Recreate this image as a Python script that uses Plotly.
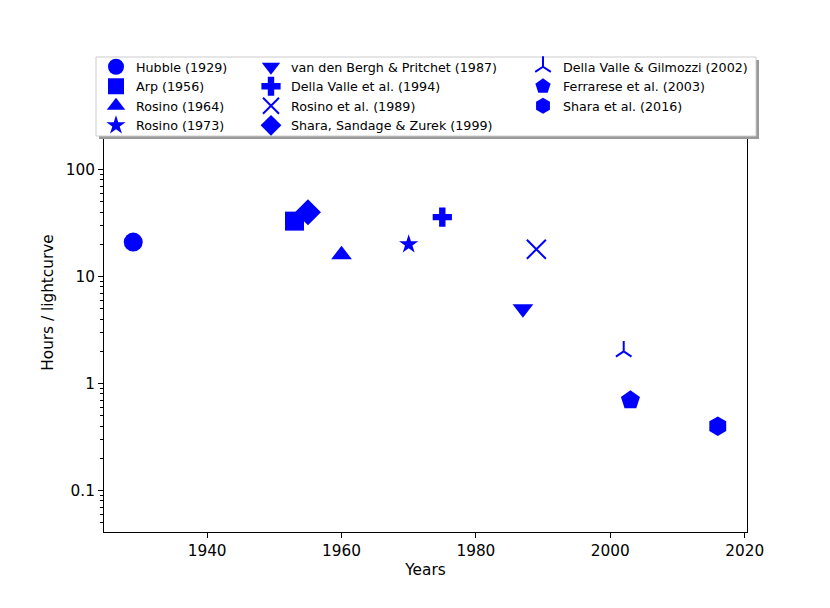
import math
import plotly.graph_objects as go

# Data
labels = [
    "Hubble (1929)", "Arp (1956)", "Rosino (1964)", "Rosino (1973)",
    "van den Bergh & Pritchet (1987)", "Della Valle et al. (1994)",
    "Rosino et al. (1989)", "Shara, Sandage & Zurek (1999)",
    "Della Valle & Gilmozzi (2002)", "Ferrarese et al. (2003)", "Shara et al. (2016)",
]
years = [1929, 1953, 1960, 1970, 1987, 1975, 1989, 1955, 2002, 2003, 2016]
hours = [21, 33, 16, 20, 5, 36, 18, 40, 2, 0.7, 0.4]

y_tick_vals = [0.1, 1, 10, 100]
y_tick_text = ["0.1", "1", "10", "100"]

# Marker styles (matplotlib-like shapes)
symbols = ["circle", "square", "triangle-up", "star", "triangle-down", "cross",
           "x-thin", "diamond", "y-up", "pentagon", "hexagon"]
sizes = [19, 19, 18, 14.5, 18, 16, 19, 20, 13, 20, 19.5]
legend_ids = ["legend"] * 4 + ["legend2"] * 4 + ["legend3"] * 3

W, H = 830, 608
L, R, T, B = 104, 747, 73, 532  # plot area in pixels


def px_x(p):
    return (p - L) / (R - L)


def px_y(p):
    return (B - p) / (B - T)


fig = go.Figure()
for lab, x, y, sym, sz, lg in zip(labels, years, hours, symbols, sizes, legend_ids):
    thin = sym in ("x-thin", "y-up")
    fig.add_trace(go.Scatter(
        x=[x], y=[y], mode="markers", name=lab, legend=lg,
        marker=dict(symbol=sym, size=sz, color="blue",
                    line=dict(color="blue", width=2 if thin else 0)),
    ))

font = dict(family="DejaVu Sans", size=15.3, color="black")
legend_font = dict(family="DejaVu Sans", size=12.7, color="black")


def legend_at(left_px):
    return dict(x=px_x(left_px), y=px_y(52), xanchor="left", yanchor="top",
                bgcolor="rgba(0,0,0,0)", borderwidth=0, font=legend_font,
                tracegroupgap=0, itemwidth=30)


# legend box with shadow (drawn as shapes so the three columns share one box)
bx0, bx1, by0, by1 = 96, 756, 57, 136
shapes = [
    dict(type="rect", xref="paper", yref="paper", layer="above",
         x0=px_x(bx0 + 3), x1=px_x(bx1 + 3), y0=px_y(by1 + 3), y1=px_y(by0 + 3),
         fillcolor="#9a9a9a", line=dict(width=0)),
    dict(type="rect", xref="paper", yref="paper", layer="above",
         x0=px_x(bx0), x1=px_x(bx1), y0=px_y(by1), y1=px_y(by0),
         fillcolor="white", line=dict(color="#cccccc", width=1)),
]

fig.update_layout(
    width=W, height=H,
    margin=dict(l=L, r=W - R, t=T, b=H - B),
    paper_bgcolor="white", plot_bgcolor="white",
    font=font,
    showlegend=True,
    legend=legend_at(96),
    legend2=legend_at(251),
    legend3=legend_at(523),
    shapes=shapes,
)

fig.update_xaxes(
    range=[1924.65, 2020.35], tick0=1940, dtick=20,
    showline=True, linecolor="black", linewidth=1, mirror=True,
    ticks="outside", ticklen=5, tickcolor="black", showgrid=False, zeroline=False,
    title=dict(text="Years", font=font, standoff=4), automargin=False,
)
fig.update_yaxes(
    type="log", range=[math.log10(0.041), 2.903],
    tickvals=y_tick_vals, ticktext=y_tick_text,
    showline=True, linecolor="black", linewidth=1, mirror=True,
    ticks="outside", ticklen=5, tickcolor="black", showgrid=False, zeroline=False,
    minor=dict(ticks="outside", ticklen=3, tickcolor="black", dtick="D1", showgrid=False),
    title=dict(text="Hours / lightcurve", font=font, standoff=8), automargin=False,
)

# drop the default page margin so the figure sits at the window's top-left corner
fig.write_html("out.html", config={"displayModeBar": False},
               post_script="document.body.style.margin='0';")
